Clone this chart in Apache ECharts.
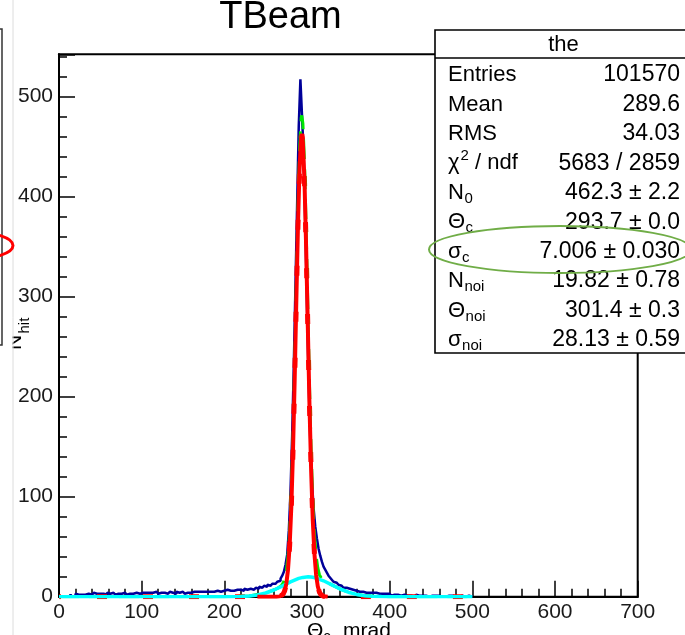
<!DOCTYPE html>
<html><head><meta charset="utf-8">
<script src="https://cdn.jsdelivr.net/npm/echarts@6/dist/echarts.min.js"></script>
<style>html,body{margin:0;padding:0;background:#fff}#c{width:685px;height:635px}</style>
</head><body><div id="c"></div><script>
const FONT = '"Liberation Sans", Arial, Helvetica, sans-serif';
const titleText = 'TBeam';
const xMin = 0, xMax = 700, xInterval = 100;
const yMin = 0, yMax = 542, yInterval = 100;
const xTitle = ['Θ', 'c', 'mrad'];
const yTitle = ['N', 'hit'];

// histogram: 2 mrad bins starting at 0
const histStart = 0, histBinWidth = 2;
const histCounts = [
  0,0,0,0,0,0,1,
  2,0,1,3,2,1,2,3,2,1,3,2,2,
  3,4,3,2,3,4,3,3,2,4,3,3,4,3,2,3,4,3,3,4,3,2,3,4,3,3,4,3,3,4,
  4,3,4,5,4,3,4,4,5,4,3,4,5,4,4,3,4,5,4,4,3,5,4,4,5,4,3,4,5,4,4,5,4,5,4,
  5,6,5,4,5,6,5,6,5,5,6,7,5,6,6,5,7,6,6,7,6,5,7,6,7,
  7,6,8,7,7,8,9,7,8,9,8,10,9,10,11,10,12,11,
  12,13,13,14,15,
  16,18,21,25,32,42,66,104,160,230,310,390,470,517,480,440,370,290,215,155,115,88,70,
  58,48,41,35,30,27,24,21,19,17,15,14,13,12,11,10,9,9,8,8,
  7,7,6,6,6,5,5,5,4,4,
  5,4,4,4,3,4,3,3,3,3,2,3,2,3,
  2,1,2,1,2,2,1,1,2,1, 1,2,1,1,0,1,2,1,1,1, 0,1,1,0,1,1,0,1,0,1, 1,0,1,0,0,1,0,1,0,0, 1,0,0,1,0,0,0,1,0,0
];

// fitted curves: [theta, N]
const fitSignal = [[0,0],[240,0],[255,0],[263,0.05],[267,0.33],[269,0.93],[271,2.4],[273,5.9],[275,13.1],[277,27],[279,51.2],[281,89.4],[283,144],[285,214],[287,293],[289,369],[291,429],[293,460],[293.7,462.3],[295,454],[297,414],[299,347],[301,269],[303,191],[305,126],[307,76],[309,42.6],[311,22],[313,10.4],[315,4.5],[317,1.8],[320,0.4],[325,0],[500,0]];
const fitTotal = [[0,0],[150,0],[200,0.03],[230,0.8],[250,3.7],[260,6.7],[265,8.7],[269,11.1],[271,13.5],[273,17.8],[275,25.9],[277,40.6],[279,65.6],[281,104.6],[283,160],[285,231],[287,310],[289,387],[291,447],[293,479],[293.7,481],[295,473],[297,434],[299,367],[301,289],[303,211],[305,146],[307,95],[309,62],[311,41],[313,29],[315,22],[317,19],[320,16.3],[330,11.8],[340,7.7],[350,4.5],[360,2.3],[370,1.0],[380,0.4],[400,0],[500,0]];
const fitNoise = [[0,0],[150,0],[200,0.03],[220,0.3],[230,0.8],[240,1.8],[250,3.7],[260,6.7],[270,10.6],[280,14.8],[290,18.3],[295,19.3],[301.4,19.82],[305,19.7],[310,18.9],[320,15.9],[330,11.8],[340,7.7],[350,4.5],[360,2.3],[370,1.0],[380,0.4],[390,0.1],[400,0],[500,0]];

// stats box
const statTitle = 'the';
const statNames = ['Entries','Mean','RMS','χ','N','Θ','σ','N','Θ','σ'];
const statSubs  = ['','','','','0','c','c','noi','noi','noi'];
const statSups  = ['','','','2','','','','','',''];
const statTails = ['','','',' / ndf','','','','','',''];
const statValues = ['101570','289.6','34.03','5683 / 2859','462.3 ± 2.2','293.7 ± 0.0','7.006 ± 0.030','19.82 ± 0.78','301.4 ± 0.3','28.13 ± 0.59'];

// ---------------------------------------------------------------
const histData = [];
for (let i = 0; i < histCounts.length; i++) histData.push([histStart + i * histBinWidth, histCounts[i]]);
const histEnd = histStart + histCounts.length * histBinWidth;
histData.push([histEnd, histCounts[histCounts.length - 1]]);
histData.push([histEnd, 0]);
const signalPeak = fitSignal.filter(p => p[0] >= 240 && p[0] <= 325);

const mctx = document.createElement('canvas').getContext('2d');
function tw(t, size) { mctx.font = size + 'px ' + FONT; return mctx.measureText(t).width; }
function txt(x, y, t, size, align, valign, extra) {
  return Object.assign({
    type: 'text', x: x, y: y, silent: true, z: 100,
    style: { text: t, font: size + 'px ' + FONT, fontSize: size, fontFamily: FONT, fill: '#000',
      align: align, textAlign: align, verticalAlign: valign, textVerticalAlign: valign }
  }, extra || {});
}

const G = [];
// title
G.push(txt(280.5, 18, titleText, 38, 'center', 'middle'));
// stats box
const bx = 435, by = 30, bw = 257, bh = 323;
G.push({ type: 'rect', shape: { x: bx, y: by, width: bw, height: bh }, z: 90, silent: true,
  style: { fill: '#fff', stroke: '#000', lineWidth: 1.6 } });
G.push({ type: 'line', shape: { x1: bx, y1: 58, x2: bx + bw, y2: 58 }, z: 91, silent: true,
  style: { stroke: '#000', lineWidth: 1.6 } });
G.push(txt(bx + bw / 2, 45, statTitle, 22, 'center', 'middle'));
const FS = 22, VS = 23, SS = 15;
for (let i = 0; i < statNames.length; i++) {
  const cy = 75 + i * 29.45;
  let x = 448;
  G.push(txt(x, cy, statNames[i], FS, 'left', 'middle'));
  x += tw(statNames[i], FS);
  if (statSups[i]) { G.push(txt(x + 1, cy - 7, statSups[i], SS, 'left', 'middle')); x += tw(statSups[i], SS) + 1; }
  if (statSubs[i]) { G.push(txt(x + 0.5, cy + 6, statSubs[i], SS, 'left', 'middle')); x += tw(statSubs[i], SS); }
  if (statTails[i]) G.push(txt(x, cy, statTails[i], FS, 'left', 'middle'));
  G.push(txt(680, cy, statValues[i], VS, 'right', 'middle'));
}
// green highlight ellipse
G.push({ type: 'ellipse', shape: { cx: 560, cy: 249.5, rx: 131, ry: 23.5 }, z: 110, silent: true,
  style: { fill: 'none', stroke: '#70ad47', lineWidth: 2 } });
// axis titles
G.push(txt(307, 631, xTitle[0], 21, 'left', 'middle'));
G.push(txt(307 + tw(xTitle[0], 21), 637, xTitle[1], 15, 'left', 'middle'));
G.push(txt(343, 631, xTitle[2], 21, 'left', 'middle'));
G.push(txt(15.5, 350, yTitle[0], 21, 'left', 'middle', { rotation: Math.PI / 2 }));
G.push(txt(24.5, 333.5, yTitle[1], 15, 'left', 'middle', { rotation: Math.PI / 2 }));
// neighbouring-slide fragments on the left edge
G.push({ type: 'rect', shape: { x: 3, y: 0, width: 9.5, height: 635 }, z: 120, silent: true, style: { fill: '#fff' } });
G.push({ type: 'line', shape: { x1: 13, y1: 0, x2: 13, y2: 635 }, z: 121, silent: true, style: { stroke: '#dcdcdc', lineWidth: 1 } });
G.push({ type: 'polyline', shape: { points: [[0, 29], [2, 29], [2, 345], [0, 345]] }, z: 121, silent: true, style: { fill: 'none', stroke: '#333', lineWidth: 1.5 } });
G.push({ type: 'ellipse', shape: { cx: -30, cy: 245.5, rx: 43, ry: 14 }, z: 122, silent: true, style: { fill: 'none', stroke: '#ff0000', lineWidth: 3 } });

const chart = echarts.init(document.getElementById('c'), null, { renderer: 'canvas' });
const axisCommon = {
  type: 'value', splitLine: { show: false },
  axisLine: { show: true, lineStyle: { color: '#000', width: 2 } },
  axisTick: { show: true, inside: true, length: 16, lineStyle: { color: '#000', width: 1.5 } },
  minorTick: { show: true, splitNumber: 5, length: 8, lineStyle: { color: '#000', width: 1.5 } },
  axisLabel: { fontFamily: FONT, fontSize: 21, color: '#1a1a1a' }
};
chart.setOption({
  animation: false,
  backgroundColor: '#fff',
  grid: { left: 59, right: 47.3, top: 54.3, bottom: 38.3, show: true, borderColor: '#000', borderWidth: 2, backgroundColor: 'transparent' },
  xAxis: Object.assign({}, axisCommon, { min: xMin, max: xMax, interval: xInterval,
    axisLabel: Object.assign({}, axisCommon.axisLabel, { margin: 5 }) }),
  yAxis: Object.assign({}, axisCommon, { min: yMin, max: yMax, interval: yInterval,
    axisLabel: Object.assign({}, axisCommon.axisLabel, { margin: 6, formatter: v => (v % 100 === 0 ? String(v) : '') }) }),
  series: [
    { type: 'line', name: 'hist', data: histData, step: 'end', symbol: 'none', silent: true,
      lineStyle: { color: '#000099', width: 2.5 }, z: 2 },
    { type: 'line', name: 'signalBase', data: fitSignal, symbol: 'none', silent: true,
      lineStyle: { color: '#ff0000', width: 5, type: [10, 36], dashOffset: 8 }, z: 2 },
    { type: 'line', name: 'total', data: fitTotal, symbol: 'none', silent: true,
      lineStyle: { color: '#00e600', width: 3, type: [20, 10] }, z: 2 },
    { type: 'line', name: 'noise', data: fitNoise, symbol: 'none', silent: true,
      lineStyle: { color: '#00ffff', width: 3.5 }, z: 2 },
    { type: 'line', name: 'signal', data: signalPeak, symbol: 'none', silent: true,
      lineStyle: { color: '#ff0000', width: 4 }, z: 2 }
  ],
  graphic: { elements: G }
});
</script></body></html>
